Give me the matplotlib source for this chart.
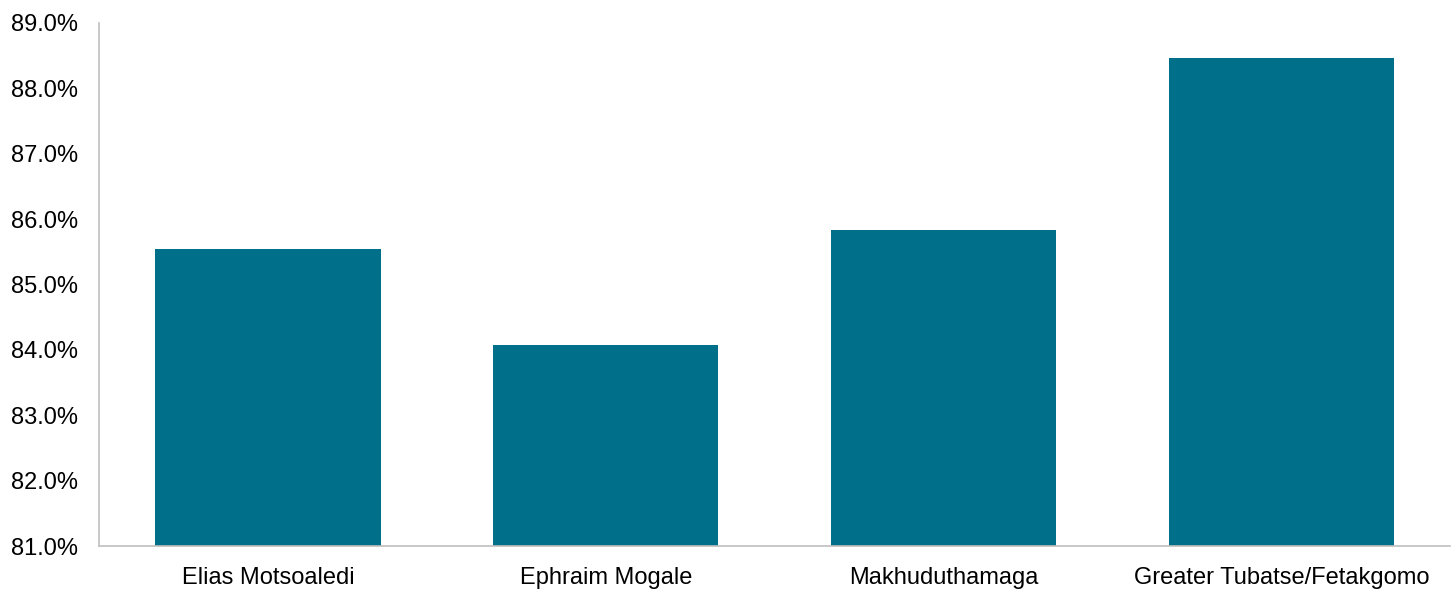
import numpy as np
import matplotlib.pyplot as plt
from matplotlib.ticker import FuncFormatter

plt.rcParams['font.family'] = ['Liberation Sans', 'DejaVu Sans']

categories = ['Elias Motsoaledi', 'Ephraim Mogale', 'Makhuduthamaga', 'Greater Tubatse/Fetakgomo']
values = [85.55, 84.08, 85.83, 88.47]
bar_color = '#006F89'

fig = plt.figure(figsize=(14.56, 5.89), dpi=100)
ax = fig.add_axes([0.068, 0.073, 0.928, 0.888])

xpos = np.arange(len(categories))
ax.bar(xpos, values, width=0.667, color=bar_color, zorder=2)

ax.set_xlim(-0.5, 3.5)
ax.set_ylim(81, 89)
ax.set_yticks(np.arange(81, 89.1, 1))
ax.yaxis.set_major_formatter(FuncFormatter(lambda v, p: f'{v:.1f}%'))
ax.set_xticks(xpos)
ax.set_xticklabels(categories)
ax.tick_params(axis='both', length=0, labelsize=17, colors='black')
ax.tick_params(axis='x', pad=15)
ax.tick_params(axis='y', pad=15)

for s in ['top', 'right']:
    ax.spines[s].set_visible(False)
for s in ['left', 'bottom']:
    ax.spines[s].set_color('#bfbfbf')
    ax.spines[s].set_linewidth(1.2)

fig.savefig('out.png', dpi=100)
